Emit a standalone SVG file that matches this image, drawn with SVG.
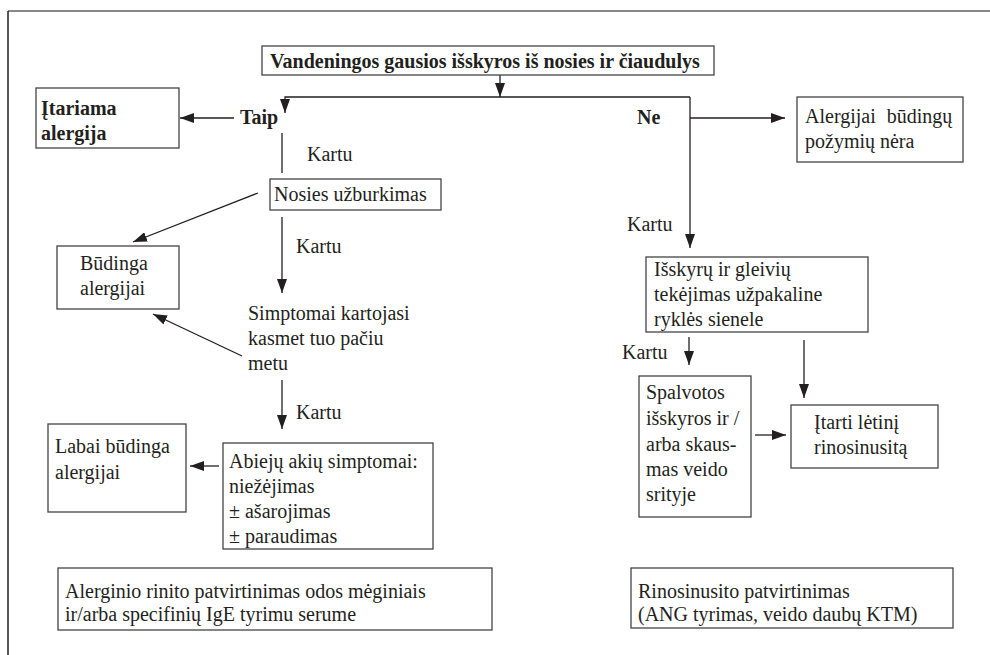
<svg xmlns="http://www.w3.org/2000/svg" width="990" height="655" viewBox="0 0 990 655">
<style>
text{font-family:"Liberation Serif","Times New Roman",serif;font-size:20px;fill:#231f20}
.b{font-weight:bold}
.box{fill:#fff;stroke:#444;stroke-width:1.3}
.c{fill:none;stroke:#231f20;stroke-width:1.3}
</style>
<defs>
<marker id="ah" markerUnits="userSpaceOnUse" markerWidth="14" markerHeight="10" refX="14" refY="5" orient="auto">
<path d="M0,0 L14,5 L0,10 z" fill="#231f20"/>
</marker>
</defs>
<rect width="990" height="655" fill="#fff"/>
<g id="frame">
<line x1="8" y1="11" x2="990" y2="11" stroke="#888" stroke-width="2"/>
<line x1="8" y1="11" x2="8" y2="655" stroke="#231f20" stroke-width="1.5"/>
</g>
<g id="connectors">
<path class="c" d="M500,75 L500,97" marker-end="url(#ah)"/>
<path class="c" d="M690,97 L285,97 L285,113" marker-end="url(#ah)"/>
<path class="c" d="M690,97 L690,248" marker-end="url(#ah)"/>
<path class="c" d="M690,118 L785,118" marker-end="url(#ah)"/>
<path class="c" d="M234,118 L180,118" marker-end="url(#ah)"/>
<path class="c" d="M282,133 L282,173"/>
<path class="c" d="M282,217 L282,293" marker-end="url(#ah)"/>
<path class="c" d="M258,193 L133,242" marker-end="url(#ah)"/>
<path class="c" d="M242,356 L153,314" marker-end="url(#ah)"/>
<path class="c" d="M282,380 L282,429" marker-end="url(#ah)"/>
<path class="c" d="M219,466 L190,466" marker-end="url(#ah)"/>
<path class="c" d="M689,337 L689,365" marker-end="url(#ah)"/>
<path class="c" d="M804,340 L804,398" marker-end="url(#ah)"/>
<path class="c" d="M755,435 L786,435" marker-end="url(#ah)"/>
</g>
<g id="labels">
<text class="b" x="240" y="124">Taip</text>
<text class="b" x="637" y="124">Ne</text>
<text x="307" y="161">Kartu</text>
<text x="296" y="253">Kartu</text>
<text x="296" y="419">Kartu</text>
<text x="627" y="231">Kartu</text>
<text x="622" y="359">Kartu</text>
</g>
<g id="n-title">
<rect class="box" x="262" y="46" width="452" height="29"/>
<text class="b" x="270" y="68">Vandeningos gausios išskyros iš nosies ir čiaudulys</text>
</g>
<g id="n-itariama">
<rect class="box" x="36" y="88" width="143" height="60"/>
<text class="b" x="41" y="115">Įtariama</text>
<text class="b" x="41" y="140">alergija</text>
</g>
<g id="n-nera">
<rect class="box" x="797" y="97" width="166" height="65"/>
<text x="805" y="123" word-spacing="6">Alergijai būdingų</text>
<text x="805" y="148">požymių nėra</text>
</g>
<g id="n-nosies">
<rect class="box" x="270" y="179" width="171" height="31"/>
<text x="274" y="201">Nosies užburkimas</text>
</g>
<g id="n-budinga">
<rect class="box" x="57" y="246" width="122" height="63"/>
<text x="80" y="270">Būdinga</text>
<text x="80" y="295">alergijai</text>
</g>
<g id="n-simptomai">
<text x="248" y="320">Simptomai kartojasi</text>
<text x="248" y="345">kasmet tuo pačiu</text>
<text x="248" y="370">metu</text>
</g>
<g id="n-labai">
<rect class="box" x="48" y="424" width="138" height="88"/>
<text x="55" y="453">Labai būdinga</text>
<text x="55" y="479">alergijai</text>
</g>
<g id="n-abieju">
<rect class="box" x="223" y="443" width="210" height="106"/>
<text x="229" y="468">Abiejų akių simptomai:</text>
<text x="229" y="493">niežėjimas</text>
<text x="229" y="518">± ašarojimas</text>
<text x="229" y="543">± paraudimas</text>
</g>
<g id="n-isskyru">
<rect class="box" x="646" y="257" width="222" height="75"/>
<text x="654" y="276">Išskyrų ir gleivių</text>
<text x="654" y="301">tekėjimas užpakaline</text>
<text x="654" y="326">ryklės sienele</text>
</g>
<g id="n-spalvotos">
<rect class="box" x="639" y="376" width="112" height="141"/>
<text x="646" y="399">Spalvotos</text>
<text x="646" y="425">išskyros ir /</text>
<text x="646" y="451">arba skaus-</text>
<text x="646" y="476">mas veido</text>
<text x="646" y="501">srityje</text>
</g>
<g id="n-itarti">
<rect class="box" x="791" y="405" width="147" height="63"/>
<text x="814" y="429">Įtarti lėtinį</text>
<text x="814" y="454">rinosinusitą</text>
</g>
<g id="n-alerginio">
<rect class="box" x="58" y="568" width="434" height="62"/>
<text x="65" y="598">Alerginio rinito patvirtinimas odos mėginiais</text>
<text x="65" y="621">ir/arba specifinių IgE tyrimu serume</text>
</g>
<g id="n-rinosinusito">
<rect class="box" x="631" y="568" width="322" height="60"/>
<text x="638" y="598">Rinosinusito patvirtinimas</text>
<text x="638" y="621">(ANG tyrimas, veido daubų KTM)</text>
</g>
</svg>
